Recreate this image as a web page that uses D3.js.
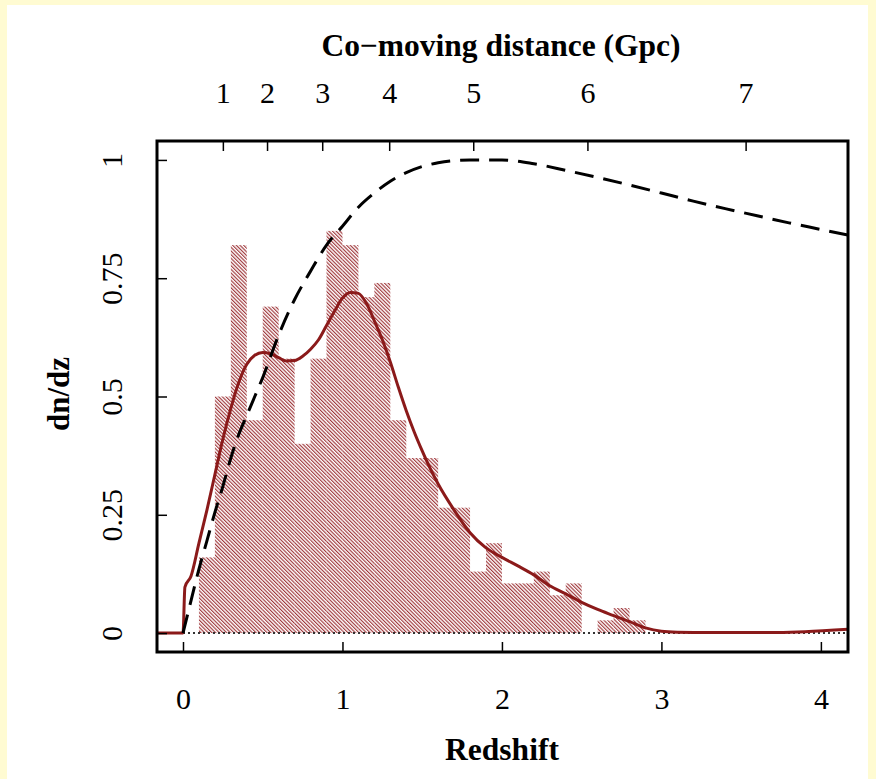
<!DOCTYPE html>
<html>
<head>
<meta charset="utf-8">
<script src="https://cdn.jsdelivr.net/npm/d3@7"></script>
<style>
  body { margin: 0; background: #fffbd2; }
  text { font-family: "Liberation Serif", "Times New Roman", serif; fill: #000; }
</style>
</head>
<body>
<div id="chart"></div>
<script>
// Histogram bins (left edge in redshift, width 0.1) and heights
var binStarts = [0.1, 0.2, 0.3, 0.4, 0.5, 0.6, 0.7, 0.8, 0.9, 1.0, 1.1, 1.2, 1.3, 1.4,
                 1.5, 1.6, 1.7, 1.8, 1.9, 2.0, 2.1, 2.2, 2.3, 2.4, 2.5, 2.6, 2.7, 2.8];
var binHeights = [0.16, 0.50, 0.82, 0.45, 0.69, 0.58, 0.40, 0.58, 0.85, 0.82, 0.71, 0.74, 0.45, 0.37,
                  0.37, 0.265, 0.265, 0.13, 0.19, 0.105, 0.105, 0.13, 0.08, 0.105, 0, 0.027, 0.053, 0.027];
var binWidth = 0.1;

// Red density curve
var densZ = [-0.163, 0, 0.012, 0.05, 0.1, 0.15, 0.2, 0.25, 0.3, 0.35, 0.4, 0.45, 0.5, 0.55, 0.6,
             0.65, 0.7, 0.75, 0.8, 0.85, 0.9, 0.95, 1.0, 1.05, 1.1, 1.15, 1.2, 1.25, 1.3, 1.35,
             1.4, 1.45, 1.5, 1.55, 1.6, 1.7, 1.8, 1.9, 2.0, 2.1, 2.2, 2.3, 2.4, 2.5, 2.6, 2.7,
             2.8, 2.9, 3.0, 3.1, 3.3, 3.6, 3.9, 4.17];
var densV = [0, 0, 0.097, 0.12, 0.19, 0.26, 0.335, 0.41, 0.475, 0.53, 0.568, 0.587, 0.593, 0.59, 0.582,
             0.575, 0.576, 0.585, 0.6, 0.62, 0.65, 0.68, 0.708, 0.72, 0.718, 0.697, 0.66, 0.62, 0.573, 0.52,
             0.47, 0.425, 0.385, 0.348, 0.315, 0.26, 0.212, 0.18, 0.16, 0.142, 0.123, 0.1, 0.083, 0.065, 0.05, 0.037,
             0.024, 0.011, 0.004, 0.002, 0.001, 0.001, 0.003, 0.008];

// Dashed comoving volume curve
var volZ = [0, 0.05, 0.1, 0.15, 0.2, 0.25, 0.3, 0.35, 0.4, 0.45, 0.5, 0.6, 0.7, 0.8, 0.9, 1.0, 1.1,
            1.2, 1.3, 1.4, 1.5, 1.6, 1.8, 2.0, 2.2, 2.4, 2.6, 2.8, 3.0, 3.2, 3.4, 3.6, 3.8, 4.0, 4.17];
var volV = [0, 0.068, 0.135, 0.195, 0.255, 0.31, 0.37, 0.42, 0.46, 0.5, 0.54, 0.63, 0.705, 0.765, 0.82, 0.86, 0.9,
            0.93, 0.955, 0.973, 0.986, 0.994, 1.0, 1.0, 0.992, 0.978, 0.963, 0.947, 0.93, 0.913, 0.897, 0.882, 0.867, 0.853, 0.841];

// Top axis: co-moving distance ticks placed at their redshift
var distLabels = ["1", "2", "3", "4", "5", "6", "7"];
var distAtZ = [0.25, 0.527, 0.873, 1.293, 1.82, 2.536, 3.528];

var xTicks = [0, 1, 2, 3, 4];
var yTicks = [0, 0.25, 0.5, 0.75, 1];

var svgWidth = 876;
var svgHeight = 779;
var margin = { top: 141, right: 28, bottom: 127, left: 157 };
var chartWidth = svgWidth - margin.left - margin.right;
var chartHeight = svgHeight - margin.top - margin.bottom;

var svg = d3.select("#chart")
    .append("svg")
    .attr("width", svgWidth)
    .attr("height", svgHeight)
    .style("display", "block");

// page background
svg.append("rect").attr("width", svgWidth).attr("height", svgHeight).attr("fill", "#fffbd2");
svg.append("rect").attr("x", 7).attr("y", 5).attr("width", 861).attr("height", svgHeight - 5).attr("fill", "#fff");

var defs = svg.append("defs");
defs.append("pattern")
    .attr("id", "hatch")
    .attr("patternUnits", "userSpaceOnUse")
    .attr("width", 2.6)
    .attr("height", 10)
    .attr("patternTransform", "rotate(-45)")
    .append("line")
    .attr("x1", 0.6).attr("y1", 0).attr("x2", 0.6).attr("y2", 10)
    .attr("stroke", "#962428")
    .attr("stroke-width", 1.05);

defs.append("clipPath").attr("id", "plotClip")
    .append("rect").attr("width", chartWidth).attr("height", chartHeight);

var chartGroup = svg.append("g")
    .attr("transform", `translate(${margin.left}, ${margin.top})`);

var xScale = d3.scaleLinear().domain([-0.163, 4.17]).range([0, chartWidth]);
var yScale = d3.scaleLinear().domain([-0.04, 1.04]).range([chartHeight, 0]);

var plot = chartGroup.append("g").attr("clip-path", "url(#plotClip)");

// hatched histogram
plot.selectAll("rect.bar")
    .data(binStarts.map((s, i) => ({ s: s, h: binHeights[i] })).filter(d => d.h > 0))
    .enter()
    .append("rect")
    .attr("class", "bar")
    .attr("x", d => xScale(d.s))
    .attr("y", d => yScale(d.h))
    .attr("width", d => xScale(d.s + binWidth) - xScale(d.s))
    .attr("height", d => yScale(0) - yScale(d.h))
    .attr("fill", "url(#hatch)");

// dotted zero line
plot.append("line")
    .attr("x1", xScale(0)).attr("x2", chartWidth)
    .attr("y1", yScale(0)).attr("y2", yScale(0))
    .attr("stroke", "#333")
    .attr("stroke-width", 2)
    .attr("stroke-dasharray", "2,3");

var line = d3.line()
    .x(d => xScale(d[0]))
    .y(d => yScale(d[1]))
    .curve(d3.curveMonotoneX);

plot.append("path")
    .datum(densZ.map((z, i) => [z, densV[i]]))
    .attr("d", line)
    .attr("fill", "none")
    .attr("stroke", "#8b1a1a")
    .attr("stroke-width", 3);

plot.append("path")
    .datum(volZ.map((z, i) => [z, volV[i]]))
    .attr("d", line)
    .attr("fill", "none")
    .attr("stroke", "#000")
    .attr("stroke-width", 3)
    .attr("stroke-dasharray", "19,10");

// axes
var bottomAxis = d3.axisBottom(xScale).tickValues(xTicks).tickFormat(d3.format("d"))
    .tickSize(-10).tickPadding(36);
var gx = chartGroup.append("g")
    .attr("transform", `translate(0, ${chartHeight})`)
    .call(bottomAxis);

var leftAxis = d3.axisLeft(yScale).tickValues(yTicks).tickFormat(d => d3.format("~g")(d))
    .tickSize(-10).tickPadding(35);
var gy = chartGroup.append("g").call(leftAxis);
gy.selectAll(".tick text")
    .attr("x", null).attr("dy", null)
    .attr("text-anchor", "middle")
    .attr("transform", "translate(-35,0) rotate(-90)");

var topAxis = d3.axisTop(xScale).tickValues(distAtZ)
    .tickFormat((d, i) => distLabels[i])
    .tickSize(-10).tickPadding(38);
var gt = chartGroup.append("g").call(topAxis);

[gx, gy, gt].forEach(function (g) {
    g.select(".domain").remove();
    g.selectAll(".tick line").attr("stroke", "#000").attr("stroke-width", 1.5);
    g.selectAll(".tick text").style("font-family", "Liberation Serif").style("font-size", "30px");
});

// frame
chartGroup.append("rect")
    .attr("width", chartWidth).attr("height", chartHeight)
    .attr("fill", "none").attr("stroke", "#000").attr("stroke-width", 3);

// axis titles
svg.append("text")
    .attr("x", 502).attr("y", 760)
    .attr("text-anchor", "middle")
    .style("font-size", "31.5px").style("font-weight", "bold")
    .text("Redshift");

svg.append("text")
    .attr("x", 501).attr("y", 56)
    .attr("text-anchor", "middle")
    .style("font-size", "31.5px").style("font-weight", "bold")
    .text("Co\u2212moving distance (Gpc)");

svg.append("text")
    .attr("transform", "translate(69, 394) rotate(-90)")
    .attr("text-anchor", "middle")
    .style("font-size", "31px").style("font-weight", "bold")
    .text("dn/dz");
</script>
</body>
</html>
